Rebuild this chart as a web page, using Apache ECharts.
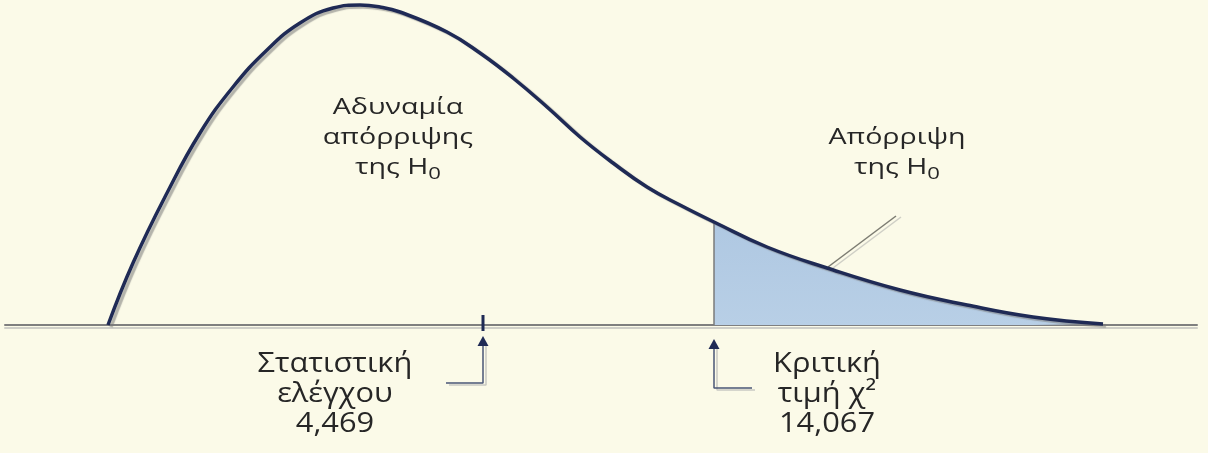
<!DOCTYPE html>
<html>
<head>
<meta charset="utf-8">
<script src="https://cdn.jsdelivr.net/npm/echarts@6/dist/echarts.min.js"></script>
<style>
html,body{margin:0;padding:0;background:#FBFAE8;}
#chart{width:1208px;height:453px;}
</style>
</head>
<body>
<div id="chart"></div>
<script>
// Curve (horizontal units along the baseline, height above baseline)
const curveX = [0, 25, 59, 92, 125, 159, 192, 225, 252, 272, 292, 339, 372, 405, 439, 472, 505, 539, 572, 606, 659, 719, 792, 859, 925, 995];
const curveY = [0, 62, 132, 192, 238, 275, 302, 317, 320, 318, 313, 293, 272, 247, 218, 188, 162, 138, 120, 103, 78, 57, 35, 20, 8, 1];
// Marked positions on the horizontal scale
const statX = 375;      // test statistic 4,469
const critX = 606;      // critical value 14,067
const statLabel = 'Στατιστική\nελέγχου\n4,469';
const critLabel = 'Κριτική\nτιμή χ²\n14,067';
const acceptLabel = 'Αδυναμία\nαπόρριψης\nτης H{s|0}';
const rejectLabel = 'Απόρριψη\nτης H{s|0}';
// leader line from rejection area to its label
const leaderX = [720, 788];
const leaderY = [58, 109];

const curve = curveX.map((x, i) => [x, curveY[i]]);
const tail = curve.filter(p => p[0] >= critX);
const critY = curveY[curveX.indexOf(critX)];

const navy = '#1F2A55';
const arrowLine = '#4A5676';

function arrow(points) {
  return points.map((p, i) => i === points.length - 1
    ? {value: p, symbol: 'triangle', symbolSize: [11, 10]}
    : {value: p, symbol: 'none'});
}

const chart = echarts.init(document.getElementById('chart'), null, {renderer: 'canvas'});
const font = '"Open Sans", "Noto Sans", sans-serif';
const subRich = {s: {fontSize: 17, fontFamily: font, fill: '#262626', lineHeight: 24, verticalAlign: 'bottom'}};
chart.setOption({
  backgroundColor: '#FBFAE8',
  animation: false,
  grid: {left: 5, right: 11, top: 0, bottom: 0},
  xAxis: {
    type: 'value', min: -103, max: 1089,
    axisLine: {show: true, onZero: true, lineStyle: {color: '#7F7F7F', width: 2, shadowColor: '#CFCFC8', shadowOffsetY: 3}},
    axisTick: {show: false}, axisLabel: {show: false}, splitLine: {show: false}
  },
  yAxis: {
    type: 'value', min: -128, max: 325, show: false,
    splitLine: {show: false}
  },
  series: [
    {
      type: 'line', data: tail, smooth: 0.45, symbol: 'none', z: 2,
      lineStyle: {width: 0},
      areaStyle: {color: {type: 'linear', x: 0, y: 0, x2: 0, y2: 1, colorStops: [{offset: 0, color: '#AFC8E2'}, {offset: 1, color: '#B8CFE6'}]}, opacity: 1}
    },
    {
      type: 'line', data: [[critX, 0], [critX, critY]], symbol: 'none', z: 3,
      lineStyle: {color: '#7A7A7A', width: 1.5}
    },
    {
      type: 'line', data: leaderX.map((x, i) => [x, leaderY[i]]), symbol: 'none', z: 3,
      lineStyle: {color: '#7C7C72', width: 1.5, shadowColor: '#CFCFC6', shadowOffsetX: 5, shadowOffsetY: 1}
    },
    {
      type: 'line', data: curve, smooth: 0.45, symbol: 'none', z: 5,
      lineStyle: {color: navy, width: 3.5, shadowColor: 'rgba(120,120,120,0.55)', shadowBlur: 1, shadowOffsetX: 3, shadowOffsetY: 2}
    },
    {
      type: 'line', data: [[statX, 10], [statX, -6]], symbol: 'none', z: 6,
      lineStyle: {color: navy, width: 3}
    },
    {
      type: 'line', z: 6,
      data: arrow([[statX - 37, -58], [statX, -58], [statX, -16]]),
      lineStyle: {color: arrowLine, width: 1.5, shadowColor: '#C9C9C2', shadowOffsetX: 3, shadowOffsetY: 2},
      itemStyle: {color: navy}
    },
    {
      type: 'line', z: 6,
      data: arrow([[critX + 38, -63], [critX, -63], [critX, -19]]),
      lineStyle: {color: arrowLine, width: 1.5, shadowColor: '#C9C9C2', shadowOffsetX: 3, shadowOffsetY: 2},
      itemStyle: {color: navy}
    }
  ],
  graphic: [
    {type: 'text', x: 398, y: 93, scaleX: 1.3, z: 10,
      style: {text: acceptLabel, fontSize: 22, fontFamily: font, fill: '#262626', align: 'center', verticalAlign: 'top', lineHeight: 30, rich: subRich}},
    {type: 'text', x: 897, y: 123, scaleX: 1.3, z: 10,
      style: {text: rejectLabel, fontSize: 22, fontFamily: font, fill: '#262626', align: 'center', verticalAlign: 'top', lineHeight: 30, rich: subRich}},
    {type: 'text', x: 335, y: 349, scaleX: 1.1, z: 10,
      style: {text: statLabel, fontSize: 28, fontFamily: font, fill: '#262626', align: 'center', verticalAlign: 'top', lineHeight: 30}},
    {type: 'text', x: 827, y: 349, scaleX: 1.1, z: 10,
      style: {text: critLabel, fontSize: 28, fontFamily: font, fill: '#262626', align: 'center', verticalAlign: 'top', lineHeight: 30}}
  ]
});
</script>
</body>
</html>
